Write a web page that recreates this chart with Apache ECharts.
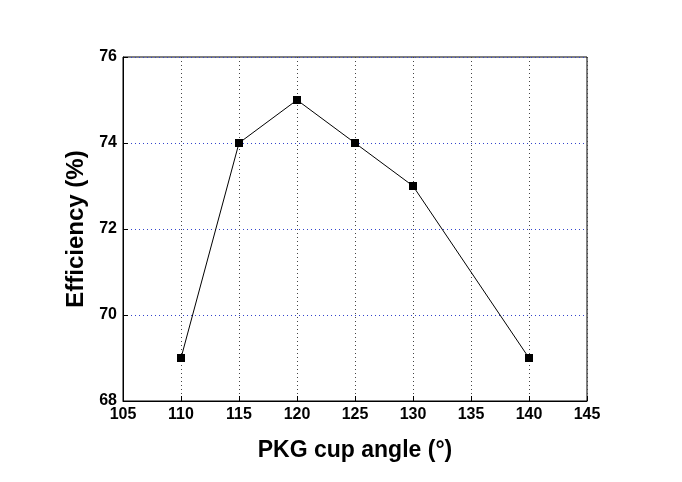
<!DOCTYPE html>
<html><head><meta charset="utf-8">
<script src="https://cdn.jsdelivr.net/npm/echarts@6/dist/echarts.min.js"></script>
<style>html,body{margin:0;padding:0;background:#fff}#c{width:682px;height:482px}</style>
</head><body><div id="c"></div>
<script>
const angles = [110, 115, 120, 125, 130, 140];
const efficiency = [69, 74, 75, 74, 73, 69];
const xTitle = 'PKG cup angle (°)';
const yTitle = 'Efficiency (%)';

const chart = echarts.init(document.getElementById('c'));
const font = 'Liberation Sans, Arial, sans-serif';
chart.setOption({
  animation: false,
  backgroundColor: '#fff',
  grid: {left: 123, right: 95, top: 57, bottom: 81, show: true, borderColor: '#000', borderWidth: 1, backgroundColor: 'transparent'},
  xAxis: {
    type: 'value', min: 105, max: 145, interval: 5,
    name: xTitle, nameLocation: 'middle', nameGap: 38,
    nameTextStyle: {fontFamily: font, fontWeight: 'bold', fontSize: 23, color: '#000'},
    axisLine: {show: true, lineStyle: {color: '#000', width: 1}},
    axisTick: {show: true, inside: true, length: 5, lineStyle: {color: '#000'}},
    axisLabel: {fontFamily: font, fontWeight: 'bold', fontSize: 16, color: '#000', margin: 6},
    splitLine: {show: true, lineStyle: {color: '#444', type: [1, 3], width: 1}}
  },
  yAxis: {
    type: 'value', min: 68, max: 76, interval: 2,
    name: yTitle, nameLocation: 'middle', nameGap: 33, nameRotate: 90,
    nameTextStyle: {fontFamily: font, fontWeight: 'bold', fontSize: 24, color: '#000'},
    axisLine: {show: true, lineStyle: {color: '#000', width: 1}},
    axisTick: {show: true, inside: true, length: 5, lineStyle: {color: '#000'}},
    axisLabel: {fontFamily: font, fontWeight: 'bold', fontSize: 16, color: '#000', margin: 6},
    splitLine: {show: true, lineStyle: {color: '#3344cc', type: [1, 3], width: 1}}
  },
  series: [{
    type: 'line',
    data: angles.map((a, i) => [a, efficiency[i]]),
    symbol: 'rect', symbolSize: 8,
    lineStyle: {color: '#000', width: 1},
    itemStyle: {color: '#000'}
  }]
});
</script></body></html>
